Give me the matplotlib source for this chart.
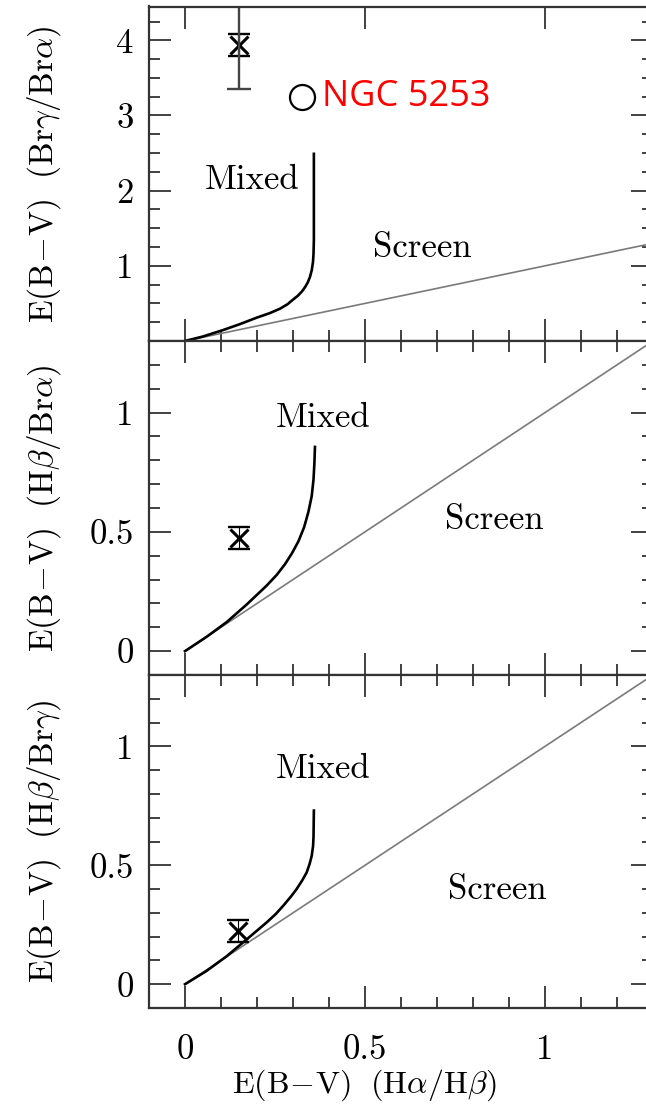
import matplotlib
matplotlib.use("Agg")
import matplotlib.pyplot as plt
from matplotlib.ticker import MultipleLocator

plt.rcParams['mathtext.fontset'] = 'cm'
plt.rcParams['font.family'] = ['cmr10', 'DejaVu Serif']
plt.rcParams['axes.formatter.use_mathtext'] = True

# screen model: y = x
screen_x = [0.0, 1.3]
screen_y = [0.0, 1.3]

# mixed model curves
mix1_x = [0, 0.05, 0.106, 0.15, 0.199, 0.235, 0.264, 0.285, 0.30, 0.313, 0.325, 0.334, 0.341, 0.347, 0.352, 0.3555, 0.357, 0.358, 0.358, 0.358]
mix1_y = [0, 0.06, 0.146, 0.22, 0.31, 0.37, 0.43, 0.49, 0.55, 0.60, 0.66, 0.72, 0.78, 0.85, 0.94, 1.05, 1.16, 1.35, 1.65, 2.49]

mix2_x = [0, 0.06, 0.116, 0.171, 0.227, 0.255, 0.278, 0.297, 0.315, 0.331, 0.343, 0.352, 0.357, 0.3595, 0.361]
mix2_y = [0, 0.06, 0.122, 0.195, 0.275, 0.32, 0.365, 0.41, 0.46, 0.52, 0.585, 0.65, 0.72, 0.79, 0.856]

mix3_x = [0, 0.06, 0.116, 0.171, 0.227, 0.252, 0.273, 0.295, 0.31, 0.325, 0.338, 0.346, 0.352, 0.3557, 0.357, 0.358]
mix3_y = [0, 0.056, 0.118, 0.188, 0.26, 0.295, 0.33, 0.37, 0.40, 0.435, 0.47, 0.505, 0.54, 0.58, 0.62, 0.73]

# measured points
obj_x = [0.151, 0.15, 0.148]
obj_y = [3.94, 0.475, 0.225]
obj_err_lo = 0.59   # top panel lower error
obj_err_hi = 1.0    # runs off the top

ngc_x = 0.325
ngc_y = 3.24

ylabels = [r'$\mathrm{E(B\!-\!V)\ \ (Br}\gamma\mathrm{/Br}\alpha\mathrm{)}$',
           r'$\mathrm{E(B\!-\!V)\ \ (H}\beta\mathrm{/Br}\alpha\mathrm{)}$',
           r'$\mathrm{E(B\!-\!V)\ \ (H}\beta\mathrm{/Br}\gamma\mathrm{)}$']
xlabel = r'$\mathrm{E(B\!-\!V)\ \ (H}\alpha\mathrm{/H}\beta\mathrm{)}$'

mixed_pos = [(0.186, 2.14), (0.383, 0.975), (0.383, 0.905)]
screen_pos = [(0.66, 1.23), (0.86, 0.547), (0.867, 0.394)]

fig = plt.figure(figsize=(6.46, 11.04), dpi=100)
left, width = 149 / 646, 504 / 646
ax1 = fig.add_axes([left, 1 - 341 / 1104, width, 334.5 / 1104])
ax2 = fig.add_axes([left, 1 - 675 / 1104, width, 334 / 1104])
ax3 = fig.add_axes([left, 1 - 1008 / 1104, width, 333 / 1104])
axes = [ax1, ax2, ax3]
mixes = [(mix1_x, mix1_y), (mix2_x, mix2_y), (mix3_x, mix3_y)]

tfs = 25
lfs = 24
for i, ax in enumerate(axes):
    ax.plot(screen_x, screen_y, color='#7a7a7a', lw=1.2)
    ax.plot(mixes[i][0], mixes[i][1], color='k', lw=1.9)
    ax.set_xlim(-0.1, 1.3)
    ax.set_xticks([0, 0.5, 1], labels=['0', '0.5', '1'])
    ax.xaxis.set_minor_locator(MultipleLocator(0.1))
    if i == 0:
        ax.set_ylim(0, 4.45)
        ax.set_yticks([1, 2, 3, 4], labels=['1', '2', '3', '4'])
        ax.yaxis.set_minor_locator(MultipleLocator(0.25))
        dy = 0.145
    else:
        ax.set_ylim(-0.1, 1.3)
        ax.set_yticks([0, 0.5, 1], labels=['0', '0.5', '1'])
        ax.yaxis.set_minor_locator(MultipleLocator(0.1))
        dy = 0.047
    ax.tick_params(which='both', direction='in', top=True, right=True,
                   labelsize=tfs, width=1.3, color='#333333')
    ax.tick_params(which='major', length=16)
    ax.tick_params(which='minor', length=8)
    ax.tick_params(axis='y', pad=11)
    ax.tick_params(axis='x', pad=19)
    if i == 0:
        ax.tick_params(axis='x', which='minor', top=False)
    if i < 2:
        ax.tick_params(axis='x', labelbottom=False)
    for s in ax.spines.values():
        s.set_linewidth(1.6)
        s.set_color('#333333')

    # measured point: cross with small caps
    ax.errorbar(obj_x[i], obj_y[i], yerr=dy, fmt='none', ecolor='k',
                elinewidth=0.8, capsize=8, capthick=1.7)
    ax.plot(obj_x[i], obj_y[i], marker='x', ms=13, mew=2.2, color='k')

    ax.text(mixed_pos[i][0], mixed_pos[i][1], 'Mixed', fontsize=tfs,
            ha='center', va='center')
    ax.text(screen_pos[i][0], screen_pos[i][1], 'Screen', fontsize=tfs,
            ha='center', va='center')

    ax.set_ylabel(ylabels[i], fontsize=lfs)
    ax.yaxis.set_label_coords(-0.17, 0.5)

# big error bar on top panel
ax1.errorbar(obj_x[0], obj_y[0], yerr=[[obj_err_lo], [obj_err_hi]], fmt='none',
             ecolor='#444444', elinewidth=1.7, capsize=8.5, capthick=1.7)
ax1.plot(ngc_x, ngc_y, marker='o', ms=18, mfc='white', mec='k', mew=1.6)
ax1.text(ngc_x + 0.056, ngc_y, 'NGC 5253', color='red', fontsize=26,
         family='Open Sans', ha='left', va='center')

ax3.set_xlabel(xlabel, fontsize=23)
ax3.xaxis.set_label_coords(0.428, -0.178)

fig.savefig('out.png', dpi=100)
